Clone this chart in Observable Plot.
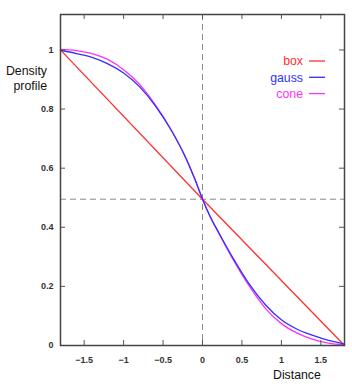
<!DOCTYPE html>
<html>
<head>
<meta charset="utf-8">
<script src="https://cdn.jsdelivr.net/npm/d3@7"></script>
<script src="https://cdn.jsdelivr.net/npm/@observablehq/plot@0.6"></script>
<style>
  html, body { margin: 0; padding: 0; background: #fff; }
  #wrap { position: relative; width: 352px; height: 389px; font-family: "Liberation Sans", Arial, sans-serif; }
  .lab { position: absolute; font-size: 12.3px; color: #111; line-height: 15px; }
  #ylab { right: 305px; top: 64px; text-align: right; }
  #xlab { left: 273px; top: 368px; }
  #legend { position: absolute; left: 0; top: 0; }
</style>
</head>
<body>
<div id="wrap">
  <div id="chart"></div>
  <div class="lab" id="ylab">Density<br>profile</div>
  <div class="lab" id="xlab">Distance</div>
  <svg id="legend" width="352" height="120"></svg>
</div>
<script>
// Distance values at which the profiles were read
const xs = [-1.8, -1.6, -1.4, -1.2, -1.0, -0.8, -0.6, -0.4, -0.2, -0.1, 0, 0.1, 0.2, 0.4, 0.6, 0.8, 1.0, 1.2, 1.4, 1.6, 1.8];
const gauss = [0.999, 0.988, 0.975, 0.953, 0.922, 0.876, 0.812, 0.730, 0.628, 0.565, 0.495, 0.435, 0.385, 0.290, 0.205, 0.137, 0.087, 0.055, 0.034, 0.017, 0.005];
const cone  = [1.002, 0.998, 0.988, 0.968, 0.933, 0.884, 0.815, 0.731, 0.628, 0.565, 0.495, 0.434, 0.383, 0.285, 0.198, 0.125, 0.074, 0.042, 0.021, 0.008, 0.002];
const boxX = [-1.8, 0, 1.8];
const box  = [1.0, 0.495, 0.0];
const crossY = 0.495;
const crossX = 0;
const xTicks = [-1.5, -1, -0.5, 0, 0.5, 1, 1.5];
const yTicks = [0, 0.2, 0.4, 0.6, 0.8, 1];
const seriesNames = ["box", "gauss", "cone"];
const seriesColors = ["#ff3030", "#3030ff", "#ff30ff"];

const rows = [];
boxX.forEach((x, i) => rows.push({series: "box", x, y: box[i]}));
xs.forEach((x, i) => rows.push({series: "cone", x, y: cone[i]}));
xs.forEach((x, i) => rows.push({series: "gauss", x, y: gauss[i]}));

const W = 352, H = 389, mL = 60, mR = 8, mT = 14, mB = 44;
const pw = W - mL - mR, ph = H - mT - mB, tl = 5;

const chart = Plot.plot({
  width: W, height: H,
  marginLeft: mL, marginRight: mR, marginTop: mT, marginBottom: mB,
  style: {fontFamily: "Liberation Sans, Arial, sans-serif", fontSize: "9px", color: "#111", background: "#fff"},
  x: {domain: [-1.8, 1.8]},
  y: {domain: [0, 1.12]},
  color: {domain: seriesNames, range: seriesColors},
  marks: [
    Plot.ruleY([crossY], {stroke: "#888", strokeDasharray: "6,4", strokeWidth: 1}),
    Plot.ruleX([crossX], {stroke: "#888", strokeDasharray: "6,4", strokeWidth: 1}),
    Plot.line(rows, {x: "x", y: "y", z: "series", stroke: "series", strokeWidth: 1.3, curve: "monotone-x"}),
    Plot.tickX(xTicks, {x: d => d, stroke: "#555", insetTop: ph - tl}),
    Plot.tickX(xTicks, {x: d => d, stroke: "#555", insetBottom: ph - tl}),
    Plot.tickY(yTicks, {y: d => d, stroke: "#555", insetRight: pw - tl}),
    Plot.tickY(yTicks, {y: d => d, stroke: "#555", insetLeft: pw - tl}),
    Plot.axisX(xTicks, {anchor: "bottom", tickSize: 0, tickPadding: 11, label: null, tickFormat: d => String(d).replace("-", "\u2212"), fontWeight: "bold", fill: "#333"}),
    Plot.axisY(yTicks, {anchor: "left", tickSize: 0, tickPadding: 7, label: null, tickFormat: d => String(d), fontWeight: "bold", fill: "#333"}),
    Plot.frame({stroke: "#444", strokeWidth: 1.5})
  ]
});
document.getElementById("chart").appendChild(chart);

// legend (gnuplot style, inside the plot at the top right)
const leg = d3.select("#legend");
seriesNames.forEach((name, i) => {
  const cy = 61 + i * 16.3;
  leg.append("text").attr("x", 303).attr("y", cy).attr("dy", "0.35em")
    .attr("text-anchor", "end").attr("fill", seriesColors[i])
    .style("font-family", "Liberation Sans, Arial, sans-serif").style("font-size", "12.3px").text(name);
  leg.append("line").attr("x1", 309).attr("x2", 325).attr("y1", cy).attr("y2", cy)
    .attr("stroke", seriesColors[i]).attr("stroke-width", 1.3);
});
</script>
</body>
</html>
